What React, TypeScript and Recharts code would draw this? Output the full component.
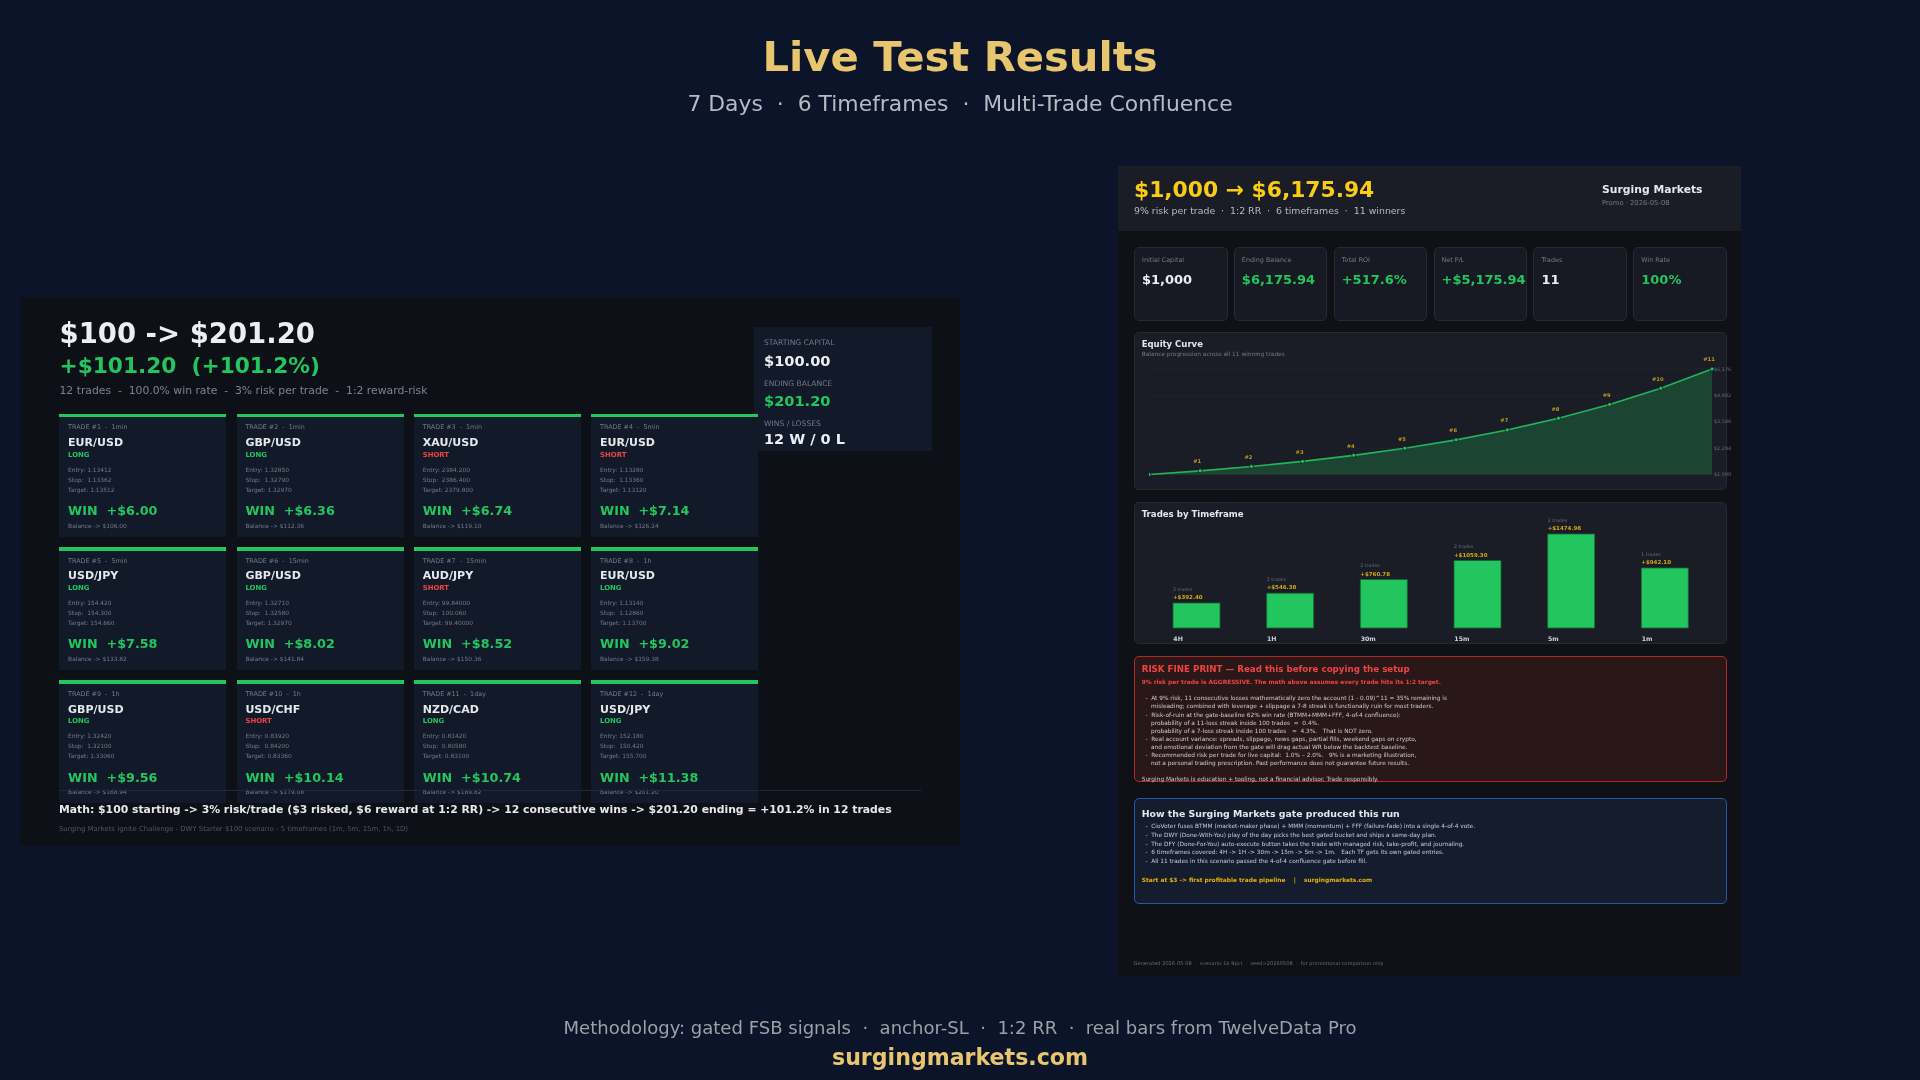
import React from 'react'
import {
    ComposedChart,
    Area,
    BarChart,
    Bar,
    XAxis,
    YAxis,
    CartesianGrid,
    LabelList,
} from 'recharts'

const FONT = '"DejaVu Sans", sans-serif'
const GOLD = '#e8c56f'
const CARD_BG = '#121a2a'
const MUTED = '#737986'

const tradeFrames = ['1min', '1min', '1min', '5min', '5min', '15min', '15min', '1h', '1h', '1h', '1day', '1day']
const tradePairs = ['EUR/USD', 'GBP/USD', 'XAU/USD', 'EUR/USD', 'USD/JPY', 'GBP/USD', 'AUD/JPY', 'EUR/USD', 'GBP/USD', 'USD/CHF', 'NZD/CAD', 'USD/JPY']
const tradeSides = ['LONG', 'LONG', 'SHORT', 'SHORT', 'LONG', 'LONG', 'SHORT', 'LONG', 'LONG', 'SHORT', 'LONG', 'LONG']
const tradeEntries = ['1.13412', '1.32850', '2384.200', '1.13280', '154.420', '1.32710', '99.84000', '1.13140', '1.32420', '0.83920', '0.81420', '152.180']
const tradeStops = ['1.13362', '1.32790', '2386.400', '1.13360', '154.300', '1.32580', '100.060', '1.12860', '1.32100', '0.84200', '0.80580', '150.420']
const tradeTargets = ['1.13512', '1.32970', '2379.800', '1.13120', '154.660', '1.32970', '99.40000', '1.13700', '1.33060', '0.83360', '0.83100', '155.700']
const tradeWins = ['6.00', '6.36', '6.74', '7.14', '7.58', '8.02', '8.52', '9.02', '9.56', '10.14', '10.74', '11.38']
const tradeBalances = ['106.00', '112.36', '119.10', '126.24', '133.82', '141.84', '150.36', '159.38', '168.94', '179.08', '189.82', '201.20']

const kpiLabels = ['Initial Capital', 'Ending Balance', 'Total ROI', 'Net P/L', 'Trades', 'Win Rate']
const kpiValues = ['$1,000', '$6,175.94', '+517.6%', '+$5,175.94', '11', '100%']
const kpiGreen = [false, true, true, true, false, true]

const equityValues = [1000, 1180, 1392, 1643, 1939, 2288, 2700, 3185, 3759, 4435, 5234, 6176]
const equityTags = ['', '#1', '#2', '#3', '#4', '#5', '#6', '#7', '#8', '#9', '#10', '#11']
const equityTicks = [1000, 2294, 3588, 4882, 6176]

const frameNames = ['4H', '1H', '30m', '15m', '5m', '1m']
const framePnl = [392.4, 546.38, 760.78, 1059.3, 1474.98, 942.1]
const frameCounts = [2, 2, 2, 2, 2, 1]

const riskLines = [
    '  -  At 9% risk, 11 consecutive losses mathematically zero the account (1 - 0.09)^11 = 35% remaining is',
    '     misleading; combined with leverage + slippage a 7-8 streak is functionally ruin for most traders.',
    '  -  Risk-of-ruin at the gate-baseline 62% win rate (BTMM+MMM+FFF, 4-of-4 confluence):',
    '     probability of a 11-loss streak inside 100 trades  \u2248  0.4%.',
    '     probability of a 7-loss streak inside 100 trades   \u2248  4.3%.   That is NOT zero.',
    '  -  Real account variance: spreads, slippage, news gaps, partial fills, weekend gaps on crypto,',
    '     and emotional deviation from the gate will drag actual WR below the backtest baseline.',
    '  -  Recommended risk per trade for live capital:  1.0% \u2013 2.0%.   9% is a marketing illustration,',
    '     not a personal trading prescription. Past performance does not guarantee future results.',
]
const gateLines = [
    '  -  CioVoter fuses BTMM (market-maker phase) + MMM (momentum) + FFF (failure-fade) into a single 4-of-4 vote.',
    '  -  The DWY (Done-With-You) play of the day picks the best gated bucket and ships a same-day plan.',
    '  -  The DFY (Done-For-You) auto-execute button takes the trade with managed risk, take-profit, and journaling.',
    '  -  6 timeframes covered: 4H -> 1H -> 30m -> 15m -> 5m -> 1m.   Each TF gets its own gated entries.',
    '  -  All 11 trades in this scenario passed the 4-of-4 confluence gate before fill.',
]

const equityData = equityValues.map((v, i) => ({ step: i, value: v, tag: equityTags[i] }))
const frameData = frameNames.map((n, i) => ({ name: n, pnl: framePnl[i], count: frameCounts[i] }))

const T = ({ x, y, size, color, bold, center, children }: any) => (
    <div style={{
        position: 'absolute',
        left: x,
        top: y,
        transform: center ? 'translate(-50%, -50%)' : 'translateY(-50%)',
        fontFamily: FONT,
        fontSize: size,
        lineHeight: 1,
        color,
        fontWeight: bold ? 700 : 400,
        whiteSpace: 'pre',
    }}>{children}</div>
)

const Box = ({ x, y, w, h, bg, border, radius }: any) => (
    <div style={{
        position: 'absolute',
        left: x,
        top: y,
        width: w,
        height: h,
        boxSizing: 'border-box',
        background: bg,
        border: border,
        borderRadius: radius,
    }} />
)

const TradeCard = ({ i }: { i: number }) => {
    const x = 59.3 + (i % 4) * 177.33
    const y = 413.7 + Math.floor(i / 4) * 133.2
    const tx = x + 8.8
    const short = tradeSides[i] === 'SHORT'
    return (
        <>
            <Box x={x} y={y} w={167} h={123} bg={CARD_BG} />
            <Box x={x} y={y} w={167} h={3.8} bg="#22c55e" />
            <T x={tx} y={y + 13.6} size={6.4} color={MUTED}>{`TRADE #${i + 1}  -  ${tradeFrames[i]}`}</T>
            <T x={tx} y={y + 28.4} size={11} color="#e5e7eb" bold>{tradePairs[i]}</T>
            <T x={tx} y={y + 41.2} size={6.9} color={short ? '#ef4444' : '#22c55e'} bold>{tradeSides[i]}</T>
            <T x={tx} y={y + 56.8} size={5.9} color={MUTED}>{`Entry: ${tradeEntries[i]}`}</T>
            <T x={tx} y={y + 67} size={5.9} color={MUTED}>{`Stop:  ${tradeStops[i]}`}</T>
            <T x={tx} y={y + 77.2} size={5.9} color={MUTED}>{`Target: ${tradeTargets[i]}`}</T>
            <T x={tx} y={y + 97.4} size={12.75} color="#22c55e" bold>{`WIN  +$${tradeWins[i]}`}</T>
            <T x={tx} y={y + 112.8} size={5.9} color={MUTED}>{`Balance -> $${tradeBalances[i]}`}</T>
        </>
    )
}

const LeftPanel = () => (
    <>
        <Box x={20} y={297} w={940} h={549} bg="#0d1117" />
        <T x={59.5} y={334} size={27.5} color="#eceef1" bold>$100 -&gt; $201.20</T>
        <T x={59.5} y={366} size={21.7} color="#22c55e" bold>+$101.20  (+101.2%)</T>
        <T x={59.5} y={390.5} size={10.8} color="#7d838e">12 trades  -  100.0% win rate  -  3% risk per trade  -  1:2 reward-risk</T>

        <Box x={754} y={327} w={178} h={123.7} bg={CARD_BG} />
        <T x={764} y={343} size={7.6} color={MUTED}>STARTING CAPITAL</T>
        <T x={764} y={360.6} size={14.6} color="#eceef1" bold>$100.00</T>
        <T x={764} y={383.8} size={7.6} color={MUTED}>ENDING BALANCE</T>
        <T x={764} y={401.3} size={14.6} color="#22c55e" bold>$201.20</T>
        <T x={764} y={424.3} size={7.6} color={MUTED}>WINS / LOSSES</T>
        <T x={764} y={439} size={14.5} color="#eceef1" bold>12 W / 0 L</T>

        {tradePairs.map((_, i) => <TradeCard key={i} i={i} />)}

        <Box x={59} y={790.2} w={862} h={1} bg="#1f2937" />
        <T x={59} y={809.5} size={10.84} color="#e5e7eb" bold>{'Math: $100 starting -> 3% risk/trade ($3 risked, $6 reward at 1:2 RR) -> 12 consecutive wins -> $201.20 ending = +101.2% in 12 trades'}</T>
        <T x={59} y={828.7} size={6.9} color="#4f5662">Surging Markets Ignite Challenge - DWY Starter $100 scenario - 5 timeframes (1m, 5m, 15m, 1h, 1D)</T>
    </>
)

const equityTag = ({ x, y, value }: any) => value ? (
    <text x={x - 3} y={y - 9} textAnchor="middle" dominantBaseline="middle" fontFamily={FONT} fontSize={5.2} fontWeight={700} fill="#c29c1c">{value}</text>
) : null

const EquityChart = () => (
    <div style={{ position: 'absolute', left: 1149, top: 354 }}>
        <ComposedChart width={593} height={127} data={equityData} margin={{ top: 15, right: 0, bottom: 6.5, left: 0 }}>
            <CartesianGrid horizontal vertical={false} stroke="#20242d" strokeWidth={0.8} />
            <XAxis dataKey="step" hide padding={{ left: 0, right: 0 }} />
            <YAxis
                orientation="right"
                width={30}
                domain={[1000, 6176]}
                ticks={equityTicks}
                interval={0}
                axisLine={false}
                tickLine={false}
                tickSize={2}
                tickMargin={0}
                tick={{ fontFamily: FONT, fontSize: 4.9, fill: '#666c78' }}
                tickFormatter={(v: number) => '$' + v.toLocaleString('en-US')}
            />
            <Area
                type="linear"
                dataKey="value"
                stroke="#22b45c"
                strokeWidth={1.7}
                fill="#22c55e"
                fillOpacity={0.24}
                baseValue={1000}
                dot={{ r: 2, fill: '#22c55e', stroke: '#0d1117', strokeWidth: 0.7, fillOpacity: 1 }}
                isAnimationActive={false}
            >
                <LabelList dataKey="tag" content={equityTag} />
            </Area>
        </ComposedChart>
    </div>
)

const frameLabel = ({ x, y, index }: any) => (
    <g fontFamily={FONT}>
        <text x={x} y={y - 13.3} dominantBaseline="middle" fontSize={4.7} fill="#666c78">{`${frameCounts[index]} trades`}</text>
        <text x={x} y={y - 5.2} dominantBaseline="middle" fontSize={5.5} fontWeight={700} fill="#d4a913">{`+$${framePnl[index].toFixed(2)}`}</text>
    </g>
)

const frameTick = ({ x, y, payload }: any) => (
    <text x={x - 23.5} y={y + 3} dominantBaseline="middle" fontFamily={FONT} fontSize={6.2} fontWeight={700} fill="#d1d5db">{payload.value}</text>
)

const FrameChart = () => (
    <div style={{ position: 'absolute', left: 1150, top: 514.3 }}>
        <BarChart width={562} height={128} data={frameData} margin={{ top: 20, right: 0, bottom: 0, left: 0 }} barSize={47}>
            <XAxis dataKey="name" height={14} axisLine={false} tickLine={false} tick={frameTick} interval={0} padding={{ left: 0, right: 0 }} />
            <YAxis hide domain={[0, 1474.98]} />
            <Bar dataKey="pnl" fill="#22c55e" stroke="#166534" strokeWidth={0.8} isAnimationActive={false}>
                <LabelList dataKey="pnl" content={frameLabel} />
            </Bar>
        </BarChart>
    </div>
)

const RightPanel = () => (
    <>
        <Box x={1118} y={166} w={623} h={809} bg="#0f1117" />
        <Box x={1118} y={166} w={623} h={65} bg="#1a1d26" />
        <T x={1134} y={190} size={21.8} color="#facc15" bold>$1,000 → $6,175.94</T>
        <T x={1134} y={211} size={9.39} color="#b5bac3">9% risk per trade  ·  1:2 RR  ·  6 timeframes  ·  11 winners</T>
        <T x={1602} y={190} size={10.8} color="#e5e7eb" bold>Surging Markets</T>
        <T x={1602} y={203} size={6.8} color={MUTED}>Promo · 2026-05-08</T>

        {kpiLabels.map((label, i) => {
            const x = 1134 + i * 99.85
            return (
                <React.Fragment key={label}>
                    <Box x={x} y={247} w={93.6} h={73.5} bg="#171a23" border="1px solid #262a35" radius={5} />
                    <T x={x + 8} y={260} size={6.4} color={MUTED}>{label}</T>
                    <T x={x + 8} y={279} size={13} color={kpiGreen[i] ? '#22c55e' : '#eceef1'} bold>{kpiValues[i]}</T>
                </React.Fragment>
            )
        })}

        <Box x={1134} y={332} w={593} h={158} bg="#1a1d26" border="1px solid #262a35" radius={5} />
        <T x={1141.7} y={344} size={8.5} color="#e5e7eb" bold>Equity Curve</T>
        <T x={1141.7} y={354.5} size={5.85} color={MUTED}>Balance progression across all 11 winning trades</T>
        <EquityChart />

        <Box x={1134} y={502} w={593} h={142} bg="#1a1d26" border="1px solid #262a35" radius={5} />
        <T x={1141.7} y={514} size={8.6} color="#e5e7eb" bold>Trades by Timeframe</T>
        <FrameChart />

        <Box x={1134} y={656} w={593} h={126} bg="#2a1718" border="1.6px solid #b02a2a" radius={5} />
        <T x={1141.7} y={669} size={8.7} color="#ef4444" bold>RISK FINE PRINT — Read this before copying the setup</T>
        <T x={1141.7} y={683.3} size={5.86} color="#ef4444" bold>9% risk per trade is AGGRESSIVE. The math above assumes every trade hits its 1:2 target.</T>
        {riskLines.map((line, i) => (
            <T key={i} x={1141.7} y={699.3 + i * 8.1} size={5.83} color="#c9cdd4">{line}</T>
        ))}
        <T x={1141.7} y={780.3} size={5.84} color="#c9cdd4">Surging Markets is education + tooling, not a financial advisor. Trade responsibly.</T>

        <Box x={1134} y={798} w={593} h={105.5} bg="#141c2e" border="1.8px solid #2c57a2" radius={5} />
        <T x={1141.7} y={813.7} size={9.36} color="#e5e7eb" bold>How the Surging Markets gate produced this run</T>
        {gateLines.map((line, i) => (
            <T key={i} x={1141.7} y={826.7 + i * 8.9} size={5.83} color="#c9cdd4">{line}</T>
        ))}
        <T x={1141.7} y={880.5} size={5.88} color="#eab308" bold>{'Start at $3 -> first profitable trade pipeline    |    surgingmarkets.com'}</T>
        <T x={1133.6} y={963.7} size={5.08} color="#666b76">Generated 2026-05-08  ·  scenario-1k-9pct  ·  seed=20260508  ·  for promotional comparison only</T>
    </>
)

const App: React.FC = () => (
    <div style={{ position: 'absolute', left: 0, top: 0, width: 1920, height: 1080, background: '#0b1429', overflow: 'hidden' }}>
        <div style={{ position: 'absolute', left: 0, top: 0, width: 1920, height: 1080, filter: 'blur(0.35px)' }}>
            <T x={960} y={57} size={41.7} color={GOLD} bold center>Live Test Results</T>
            <T x={960} y={104} size={21.9} color="#b6bac2" center>7 Days  ·  6 Timeframes  ·  Multi-Trade Confluence</T>
            <LeftPanel />
            <RightPanel />
            <T x={960} y={1028} size={18.05} color="#9ca0a8" center>Methodology: gated FSB signals  ·  anchor-SL  ·  1:2 RR  ·  real bars from TwelveData Pro</T>
            <T x={960} y={1057} size={22.1} color={GOLD} bold center>surgingmarkets.com</T>
        </div>
    </div>
)

export default App
